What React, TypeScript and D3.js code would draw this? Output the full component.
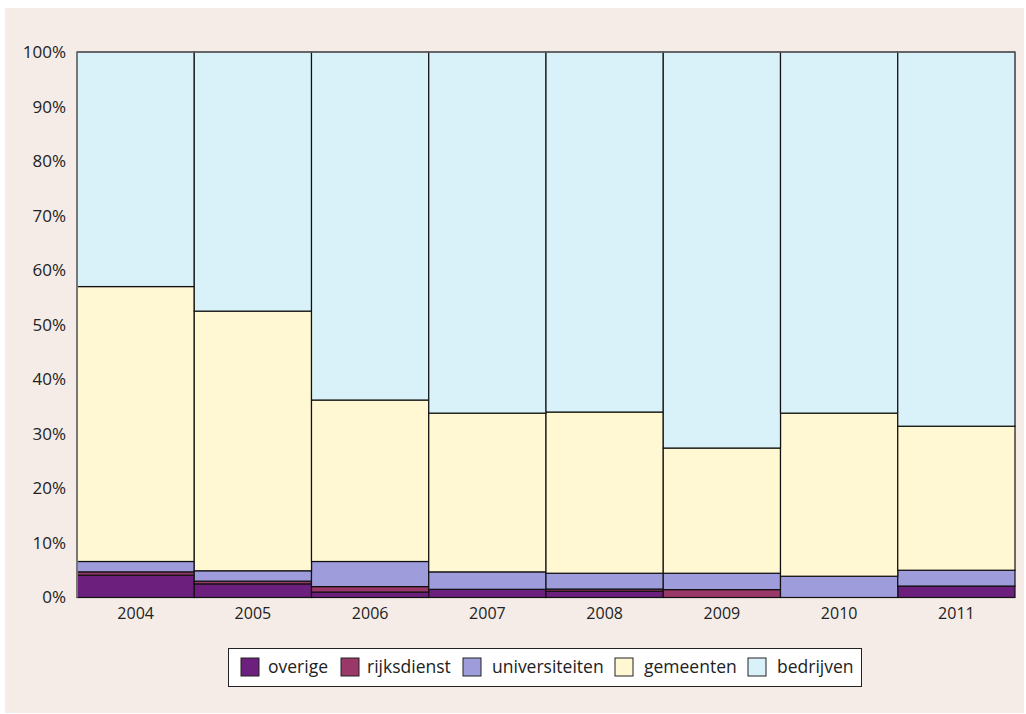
import React from 'react';
import * as d3 from 'd3';

const width = 1026;
const height = 714;

const years = ['2004', '2005', '2006', '2007', '2008', '2009', '2010', '2011'];
const keys = ['overige', 'rijksdienst', 'universiteiten', 'gemeenten', 'bedrijven'];
const colors = ['#6c1f7d', '#9a3869', '#9e9cdb', '#fff8d3', '#d9f1f9'];

// percentages per year
const overige = [4.1, 2.5, 1.0, 1.5, 1.15, 0, 0, 2.1];
const rijksdienst = [0.6, 0.5, 1.0, 0, 0.4, 1.45, 0, 0];
const universiteiten = [1.9, 1.9, 4.6, 3.2, 2.9, 3.0, 3.9, 2.9];
const gemeenten = [50.4, 47.6, 29.6, 29.1, 29.55, 22.95, 29.9, 26.4];
const bedrijven = [43.0, 47.5, 63.8, 66.2, 66.0, 72.6, 66.2, 68.6];

const yTicks = [0, 10, 20, 30, 40, 50, 60, 70, 80, 90, 100];

const rows = years.map((year, i) => ({
  year,
  overige: overige[i],
  rijksdienst: rijksdienst[i],
  universiteiten: universiteiten[i],
  gemeenten: gemeenten[i],
  bedrijven: bedrijven[i],
}));

const left = 77;
const right = 1015;
const top = 52;
const bottom = 597.5;

const x = d3.scaleBand().domain(years).range([left, right]).padding(0);
const y = d3.scaleLinear().domain([0, 100]).range([bottom, top]);

const series = d3.stack<any>().keys(keys)(rows);

const legendItems = [
  { key: 'overige', sx: 241, tx: 268 },
  { key: 'rijksdienst', sx: 341, tx: 367 },
  { key: 'universiteiten', sx: 463, tx: 492 },
  { key: 'gemeenten', sx: 615, tx: 644 },
  { key: 'bedrijven', sx: 748, tx: 777 },
];

const font = '"Open Sans", sans-serif';

export default function App() {
  return (
    <svg
      width={width}
      height={height}
      style={{ position: 'absolute', left: 0, top: 0 }}
      fontFamily={font}
    >
      <rect x={5} y={8} width={1019} height={705} fill="#f5ece7" />

      {series.map((s, si) => (
        <g key={s.key}>
          {s.map((d, i) => {
            const h = y(d[0]) - y(d[1]);
            if (h <= 0.01) return null;
            return (
              <rect
                key={i}
                x={x(years[i])}
                y={y(d[1])}
                width={x.bandwidth()}
                height={h}
                fill={colors[si]}
                stroke="#111"
                strokeWidth={1.2}
              />
            );
          })}
        </g>
      ))}

      <line x1={left} x2={left} y1={top} y2={bottom} stroke="#777" strokeWidth={2} />
      <line x1={left} x2={right} y1={top} y2={top} stroke="#666" strokeWidth={1.5} />

      {yTicks.map((t) => (
        <text
          key={t}
          x={66}
          y={y(t)}
          dy="0.35em"
          textAnchor="end"
          fontSize={17}
          fill="#222"
        >
          {t}%
        </text>
      ))}

      {years.map((yr) => (
        <text
          key={yr}
          x={(x(yr) as number) + x.bandwidth() / 2}
          y={613}
          dy="0.35em"
          textAnchor="middle"
          fontSize={16}
          fill="#222"
        >
          {yr}
        </text>
      ))}

      <rect x={228.5} y={648.5} width={633} height={38} fill="#fff" stroke="#222" strokeWidth={1} />
      {legendItems.map((it) => (
        <g key={it.key}>
          <rect
            x={it.sx}
            y={658}
            width={18}
            height={18}
            fill={colors[keys.indexOf(it.key)]}
            stroke="#222"
            strokeWidth={1}
          />
          <text x={it.tx} y={667} dy="0.35em" fontSize={17.5} fill="#222">
            {it.key}
          </text>
        </g>
      ))}
    </svg>
  );
}
